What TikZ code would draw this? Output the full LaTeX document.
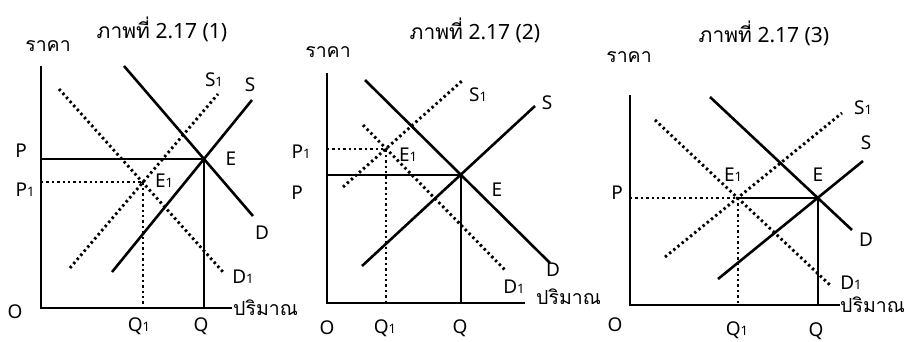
\documentclass[tikz,border=0pt]{standalone}
\usepackage{fontspec}
\setmainfont{Noto Sans}
\newfontfamily\thaifont[Script=Thai]{Loma}
\usetikzlibrary{positioning}

\newcommand{\lo}[1]{{\fontsize{13}{13}\selectfont #1}}

\begin{document}
\begin{tikzpicture}[x=1pt, y=-1pt,
  font=\fontsize{19}{21}\selectfont,
  axis/.style={line width=2.9pt},
  curve/.style={line width=2.6pt},
  dots/.style={line width=2.9pt, dash pattern=on 2.4pt off 3pt},
  thai/.style={font=\thaifont\fontsize{19.5}{22}\selectfont},
  head/.style={inner sep=1pt, font=\fontsize{21}{23}\selectfont},
  lbl/.style={inner sep=1pt},
]
\useasboundingbox (0,0) rectangle (906,341);

% panel (1)
\coordinate (ya1) at (41,66);
\coordinate (o1) at (41,308);
\coordinate (xa1) at (232,308);
\coordinate (e1) at (204,159);
\coordinate (f1) at (143,182);
\coordinate (d1a) at (124,66);  \coordinate (d1b) at (253,216);
\coordinate (s1a) at (112,272); \coordinate (s1b) at (252,100);
\coordinate (t1a) at (70,268);  \coordinate (t1b) at (218,94);
\coordinate (c1a) at (59,89);   \coordinate (c1b) at (223,272);

\draw[axis] (ya1) -- (o1) -- (xa1);
\draw[curve] (d1a) -- (d1b);
\draw[curve] (s1a) -- (s1b);
\draw[dots] (t1a) -- (t1b);
\draw[dots] (c1a) -- (c1b);
\draw[curve] (e1 -| o1) -- (e1) -- (e1 |- o1);
\draw[dots] (f1 -| o1) -- (f1) -- (f1 |- o1);

\node[head] (ti1) at (162,29) {{\thaifont ภาพที่} 2.17 (1)};
\node[lbl, thai] (pr1) at (48,46) {ราคา};
\node[lbl] (p1) at (21,151) {P};
\node[lbl] (pp1) at (25,190) {P\lo{1}};
\node[lbl] (oo1) at (15,312) {O};
\node[lbl] (qq1) at (139,326) {Q\lo{1}};
\node[lbl] (q1) at (201,326) {Q};
\node[lbl] (le1) at (231,159) {E};
\node[lbl] (lf1) at (164,181) {E\lo{1}};
\node[lbl] (ld1) at (262,233) {D};
\node[lbl] (lc1) at (243,277) {D\lo{1}};
\node[lbl] (lt1) at (214,80) {S\lo{1}};
\node[lbl] (ls1) at (250,85) {S};
\node[lbl, thai, anchor=west] (qn1) at (xa1) {ปริมาณ};

% panel (2)
\coordinate (ya2) at (327,73);
\coordinate (o2) at (327,303);
\coordinate (xa2) at (525,303);
\coordinate (e2) at (461,175);
\coordinate (f2) at (386,149);
\coordinate (d2a) at (365,80);  \coordinate (d2b) at (550,263);
\coordinate (s2a) at (362,266); \coordinate (s2b) at (535,106);
\coordinate (t2a) at (343,187); \coordinate (t2b) at (463,80);
\coordinate (c2a) at (363,125); \coordinate (c2b) at (505,270);

\draw[axis] (ya2) -- (o2) -- (xa2);
\draw[curve] (d2a) -- (d2b);
\draw[curve] (s2a) -- (s2b);
\draw[dots] (t2a) -- (t2b);
\draw[dots] (c2a) -- (c2b);
\draw[curve] (e2 -| o2) -- (e2) -- (e2 |- o2);
\draw[dots] (f2 -| o2) -- (f2) -- (f2 |- o2);

\node[head] (ti2) at (475,30) {{\thaifont ภาพที่} 2.17 (2)};
\node[lbl, thai] (pr2) at (328,52) {ราคา};
\node[lbl] (pp2) at (301,152) {P\lo{1}};
\node[lbl] (p2) at (297,193) {P};
\node[lbl] (oo2) at (327,328) {O};
\node[lbl] (qq2) at (385,328) {Q\lo{1}};
\node[lbl] (q2) at (460,328) {Q};
\node[lbl] (le2) at (497,190) {E};
\node[lbl] (lf2) at (408,155) {E\lo{1}};
\node[lbl] (ld2) at (553,270) {D};
\node[lbl] (lc2) at (514,287) {D\lo{1}};
\node[lbl] (lt2) at (478,95) {S\lo{1}};
\node[lbl] (ls2) at (547,103) {S};
\node[lbl, thai, anchor=west] (qn2) at (535,297) {ปริมาณ};

% panel (3)
\coordinate (ya3) at (630,95);
\coordinate (o3) at (630,305);
\coordinate (xa3) at (840,305);
\coordinate (e3) at (818,198);
\coordinate (f3) at (738,198);
\coordinate (d3a) at (710,97);  \coordinate (d3b) at (852,230);
\coordinate (s3a) at (718,279); \coordinate (s3b) at (863,161);
\coordinate (t3a) at (665,257); \coordinate (t3b) at (842,113);
\coordinate (c3a) at (655,120); \coordinate (c3b) at (830,285);

\draw[axis] (ya3) -- (o3) -- (xa3);
\draw[curve] (d3a) -- (d3b);
\draw[curve] (s3a) -- (s3b);
\draw[dots] (t3a) -- (t3b);
\draw[dots] (c3a) -- (c3b);
\draw[dots] (f3 -| o3) -- (f3);
\draw[curve] (f3) -- (e3) -- (e3 |- o3);
\draw[dots] (f3) -- (f3 |- o3);

\node[head] (ti3) at (764,33) {{\thaifont ภาพที่} 2.17 (3)};
\node[lbl, thai] (pr3) at (629,57) {ราคา};
\node[lbl] (p3) at (617,193) {P};
\node[lbl] (oo3) at (615,325) {O};
\node[lbl] (qq3) at (737,330) {Q\lo{1}};
\node[lbl] (q3) at (816,331) {Q};
\node[lbl] (le3) at (818,175) {E};
\node[lbl] (lf3) at (733,175) {E\lo{1}};
\node[lbl] (ld3) at (866,240) {D};
\node[lbl] (lc3) at (851,283) {D\lo{1}};
\node[lbl] (lt3) at (863,108) {S\lo{1}};
\node[lbl] (ls3) at (866,143) {S};
\node[lbl, thai, anchor=west, inner xsep=0pt] (qn3) at (xa3) {ปริมาณ};
\end{tikzpicture}
\end{document}
